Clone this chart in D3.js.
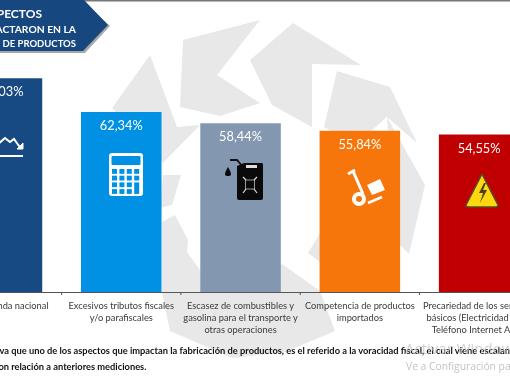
<!DOCTYPE html>
<html>
<head>
<meta charset="utf-8">
<script src="https://cdn.jsdelivr.net/npm/d3@7/dist/d3.min.js"></script>
<style>
  html, body { margin: 0; padding: 0; background: #fff; overflow: hidden; }
  svg { display: block; filter: blur(0.3px); font-family: Lato, sans-serif; }
</style>
</head>
<body>
<div id="chart"></div>
<script>
  var categories = [
    ['Baja demanda nacional'],
    ['Excesivos tributos fiscales', 'y/o parafiscales'],
    ['Escasez de combustibles y', 'gasolina para el transporte y', 'otras operaciones'],
    ['Competencia de productos', 'importados'],
    ['Precariedad de los servicios', 'básicos (Electricidad Agua', 'Teléfono Internet Aseo)']
  ]
  var values = [74.03, 62.34, 58.44, 55.84, 54.55]
  var barColors = ['#174a82', '#0090e4', '#8497b0', '#f7760b', '#c00000']
  var titleLines = ['ASPECTOS', 'QUE IMPACTARON EN LA', 'FABRICACIÓN DE PRODUCTOS']
  var noteLines = [
    'Se observa que uno de los aspectos que impactan la fabricación de productos, es el referido a la voracidad fiscal, el cual viene escalando',
    'con relación a anteriores mediciones.'
  ]

  var width = 510
  var height = 382
  var baseline = 292

  var svg = d3.select('#chart').append('svg')
    .attr('width', width)
    .attr('height', height)

  /*
      --------------------------------------
      Watermark behind the chart
  */
  var watermark = [
    [[183, 40], [260, 20], [217, 75], [260, 103], [220, 116], [180, 107]],
    [[293, 23], [361, 65], [312, 64], [312, 127], [272, 105], [250, 60]],
    [[150, 55], [177, 127], [200, 125], [163, 163], [112, 108]],
    [[337, 71], [390, 87], [417, 143], [387, 117], [355, 145], [324, 127]],
    [[387, 117], [425, 185], [409, 254], [395, 240]],
    [[163, 175], [181, 175], [172, 205], [160, 208]],
    [[162, 222], [175, 215], [188, 240], [187, 252], [200, 270], [240, 290], [282, 264], [320, 291], [335, 331], [285, 352], [232, 358], [170, 331], [162, 292]],
    [[308, 253], [320, 233], [320, 262]]
  ]
  svg.append('g').selectAll('polygon')
    .data(watermark)
    .enter().append('polygon')
    .attr('points', d => d.join(' '))
    .attr('fill', '#e8e8e8')

  // top rule
  svg.append('rect')
    .attr('x', 0).attr('y', 0)
    .attr('width', width).attr('height', 1.5)
    .attr('fill', '#777')

  /*
      --------------------------------------
      Title banner
  */
  svg.append('polygon')
    .attr('points', '-2,3 85,3 110,26 85,53 -2,53')
    .attr('fill', '#a8a8a8')
  svg.append('polygon')
    .attr('points', '-2,0 84,0 108,25 83,51 -2,51')
    .attr('fill', '#17477f')

  svg.append('g').selectAll('text')
    .data(titleLines)
    .enter().append('text')
    .attr('x', (d, i) => i === 0 ? 42 : 76)
    .attr('y', (d, i) => [17.5, 33, 47][i])
    .attr('text-anchor', 'end')
    .attr('fill', '#fff')
    .attr('font-weight', 700)
    .attr('font-size', (d, i) => [12, 10.3, 9.5][i])
    .text(d => d)

  /*
      --------------------------------------
      Scales and bars
  */
  var x = d3.scaleBand()
    .domain(d3.range(values.length))
    .range([-38.3, 519.4])
    .paddingInner(0.325)
    .paddingOuter(0)

  var y = d3.scaleLinear()
    .domain([0, 100])
    .range([baseline, 3.3])

  svg.append('g').selectAll('rect')
    .data(values)
    .enter().append('rect')
    .attr('x', (d, i) => x(i))
    .attr('y', d => y(d))
    .attr('width', x.bandwidth())
    .attr('height', d => baseline - y(d))
    .attr('fill', (d, i) => barColors[i])

  svg.append('g').selectAll('text')
    .data(values)
    .enter().append('text')
    .attr('x', (d, i) => x(i) + x.bandwidth() / 2)
    .attr('y', d => y(d) + 18)
    .attr('text-anchor', 'middle')
    .attr('fill', '#fff')
    .attr('font-size', 12.8)
    .text(d => d3.format('.2f')(d).replace('.', ',') + '%')

  /*
      --------------------------------------
      Axis: ticks sit between the bands
  */
  var axis = svg.append('g')
    .attr('transform', `translate(0,${baseline})`)
    .call(d3.axisBottom(x).tickSize(0).tickPadding(0).tickFormat(''))
  axis.select('.domain').attr('stroke', '#555').attr('stroke-width', 1)

  axis.selectAll('.gap')
    .data(d3.range(values.length - 1))
    .enter().append('line')
    .classed('gap', true)
    .attr('x1', i => x(i + 1) - x.step() * x.paddingInner() / 2)
    .attr('x2', i => x(i + 1) - x.step() * x.paddingInner() / 2)
    .attr('y1', 0)
    .attr('y2', 3)
    .attr('stroke', '#555')

  var labels = svg.append('g').selectAll('text')
    .data(categories)
    .enter().append('text')
    .attr('text-anchor', 'middle')
    .attr('fill', '#3a3a3a')
    .attr('font-size', 9.3)
    .attr('transform', (d, i) => `translate(${x(i) + x.bandwidth() / 2},309)`)

  labels.selectAll('tspan')
    .data(d => d)
    .enter().append('tspan')
    .attr('x', 0)
    .attr('y', (d, i) => i * 12)
    .text(d => d)

  /*
      --------------------------------------
      Icons
  */
  // falling trend
  var trend = svg.append('g').attr('fill', 'none').attr('stroke', '#fff')
  trend.append('path')
    .attr('d', 'M-3,145L5,138L10,142L14,139L19,146L22,147')
    .attr('stroke-width', 2)
  trend.append('path')
    .attr('d', 'M17,149L23,149L23,143Z')
    .attr('fill', '#fff')
    .attr('stroke-width', 1)
  trend.append('path')
    .attr('d', 'M-20,156L23,156')
    .attr('stroke-width', 2)

  // calculator
  var calc = svg.append('g')
  calc.append('rect')
    .attr('x', 109).attr('y', 153)
    .attr('width', 34).attr('height', 43)
    .attr('rx', 3)
    .attr('fill', '#fff')
  calc.append('rect')
    .attr('x', 111.5).attr('y', 156)
    .attr('width', 29).attr('height', 9)
    .attr('rx', 1)
    .attr('fill', '#0090e4')
  d3.range(4).forEach(function (row) {
    d3.range(4).forEach(function (col) {
      var tall = col === 3 && row === 2
      if (col === 3 && row === 3) return
      calc.append('rect')
        .attr('x', 112 + col * 7.4)
        .attr('y', 169 + row * 6.7)
        .attr('width', 5)
        .attr('height', tall ? 11.5 : 4.8)
        .attr('fill', '#0090e4')
    })
  })

  // fuel can
  var can = svg.append('g')
  can.append('path')
    .attr('d', 'M230,160L237,160L243,167')
    .attr('fill', 'none').attr('stroke', '#111').attr('stroke-width', 1.8)
  can.append('path')
    .attr('d', 'M237,166L244,163L262,163Q263,163 263,165L263,198Q263,200 261,200L239,200Q237,200 237,198Z')
    .attr('fill', '#0a0a0a')
  can.append('path')
    .attr('d', 'M228,167Q225,172 225,174Q225,176 228,176Q231,176 231,174Q231,172 228,167Z')
    .attr('fill', '#0a0a0a')
  can.append('rect')
    .attr('x', 246).attr('y', 165)
    .attr('width', 11).attr('height', 3)
    .attr('fill', '#ddd')
  can.append('rect')
    .attr('x', 245.5).attr('y', 180)
    .attr('width', 9).attr('height', 9)
    .attr('fill', 'none').attr('stroke', '#999').attr('stroke-width', 1)
  can.append('path')
    .attr('d', 'M243,177L246,180M257,177L254,180M243,193L246,189M257,193L254,189')
    .attr('stroke', '#ddd').attr('stroke-width', 1.2)

  // hand truck
  var truck = svg.append('g')
  truck.append('path')
    .attr('d', 'M348,174L355,170M353,171L363,194')
    .attr('fill', 'none').attr('stroke', '#fff').attr('stroke-width', 3)
  truck.append('polygon')
    .attr('points', '367,185 380,179 385,190 372,195')
    .attr('fill', '#fff')
  truck.append('path')
    .attr('d', 'M368,203L382,197')
    .attr('stroke', '#fff').attr('stroke-width', 2.5)
  truck.append('circle')
    .attr('cx', 359).attr('cy', 199).attr('r', 5)
    .attr('fill', 'none').attr('stroke', '#fff').attr('stroke-width', 4)

  // electrical hazard
  var hazard = svg.append('g')
  hazard.append('path')
    .attr('d', 'M482,174L498,205Q498,207 496,207L468,207Q466,207 466,205Z')
    .attr('fill', '#fdd80f')
    .attr('stroke', '#5c4a26').attr('stroke-width', 1.6)
    .attr('stroke-linejoin', 'round')
  hazard.append('path')
    .attr('d', 'M484,183L479,193L483,193L480,203L487,190L483,190L486,183Z')
    .attr('fill', '#4d4020')

  /*
      --------------------------------------
      Note and the activation notice over it
  */
  svg.append('g').selectAll('text')
    .data(noteLines)
    .enter().append('text')
    .attr('x', (d, i) => i === 0 ? -36 : -6)
    .attr('y', (d, i) => i === 0 ? 354 : 369.5)
    .attr('fill', '#111')
    .attr('font-weight', 700)
    .attr('font-size', 9.3)
    .text(d => d)

  svg.append('text')
    .attr('x', 405).attr('y', 354)
    .attr('fill', '#bbb').attr('opacity', 0.7)
    .attr('font-family', 'Open Sans')
    .attr('font-size', 15)
    .text('Activar Windows')

  svg.append('text')
    .attr('x', 406).attr('y', 370)
    .attr('fill', '#c4c4c4')
    .attr('font-family', 'Open Sans')
    .attr('font-size', 10.3)
    .text('Ve a Configuración para activar Windows')
</script>
</body>
</html>
